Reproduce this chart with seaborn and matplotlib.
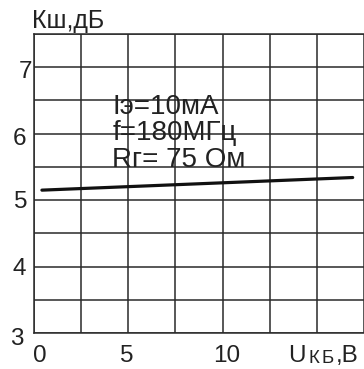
import matplotlib
matplotlib.use("Agg")
import matplotlib.pyplot as plt
import seaborn as sns
import pandas as pd
import numpy as np

# Noise figure vs collector-base voltage
u_kb = [0.42, 16.9]
k_sh = [5.15, 5.34]

x_ticks = [0, 5, 10]
y_ticks = [3, 4, 5, 6, 7]
conditions = ["Iэ=10мА", "f=180МГц", "Rг= 75 Ом"]

sns.set_theme(style="white")
plt.rcParams["font.family"] = ["Liberation Sans", "DejaVu Sans"]

ink = "#222222"
fig = plt.figure(figsize=(3.64, 3.69), dpi=100)
ax = fig.add_axes([34 / 364, 1 - 333 / 369, 330 / 364, 299 / 369])

df = pd.DataFrame({"U": u_kb, "K": k_sh})
sns.lineplot(data=df, x="U", y="K", ax=ax, color="#111111", linewidth=2.3)

ax.set_xlim(0, 17.45)
ax.set_ylim(3, 7.5)

# Grid every 2.5 V and 0.5 dB
ax.set_xticks(np.arange(0, 17.6, 2.5))
ax.set_yticks(np.arange(3, 7.6, 0.5))
ax.grid(True, color="#2a2a2a", linewidth=1.1)
ax.tick_params(length=0, labelbottom=False, labelleft=False)
ax.spines["right"].set_visible(False)
for side in ["left", "bottom", "top"]:
    ax.spines[side].set_color("#2a2a2a")
    ax.spines[side].set_linewidth(1.1)
ax.set_xlabel("")
ax.set_ylabel("")

fs = 17.5
# hand-set label placement (gap to the axis in px, baseline drop in data units)
y_pos = {7: (2, 0.165), 6: (8, 0.165), 5: (7, 0.12), 4: (8, 0.12), 3: (10, 0.18)}
for y in y_ticks:
    gap_px, drop = y_pos[y]
    ax.text(-gap_px / 18.9, y - drop, str(y), ha="right", va="baseline",
            fontsize=fs, color=ink, clip_on=False)
x_shift = {0: 0.32, 5: -0.1, 10: 0.2}
for x in x_ticks:
    ax.text(x + x_shift[x], 2.565, str(x), ha="center", va="baseline",
            fontsize=fs, color=ink, clip_on=False)

# Axis titles
t1 = ax.text(13.5, 2.565, "U", ha="left", va="baseline", fontsize=fs,
             color=ink, clip_on=False)
t2 = ax.annotate("К", xy=(1, 0), xycoords=t1, xytext=(1.5, 0),
                 textcoords="offset points", ha="left", va="bottom",
                 fontsize=13.5, color=ink)
t3 = ax.annotate("Б", xy=(1, 0), xycoords=t2, xytext=(2, 0),
                 textcoords="offset points", ha="left", va="bottom",
                 fontsize=13.5, color=ink)
ax.annotate(",В", xy=(1, 0), xycoords=t3, xytext=(1, 0),
            textcoords="offset points", ha="left", va="bottom",
            fontsize=fs, color=ink)
fig.text(32 / 364, 1 - 28 / 369, "Кш,дБ", ha="left", va="baseline",
         fontsize=18, color=ink)

for i, s in enumerate(conditions):
    ax.text(4.15, 6.30 - i * 0.4, s, ha="left", va="baseline", fontsize=20,
            color=ink)

fig.savefig("out.png", dpi=100)
